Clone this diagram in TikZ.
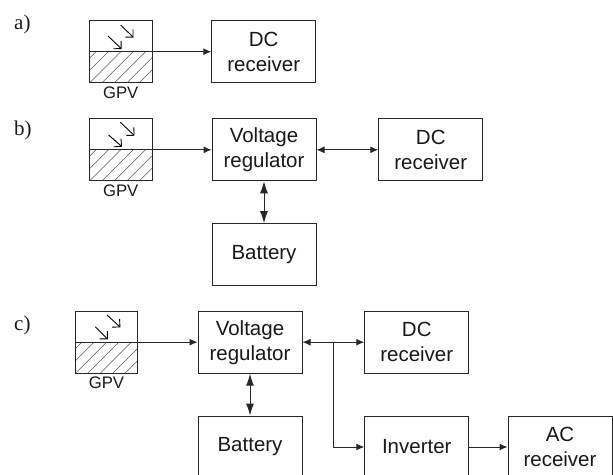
\documentclass[tikz,border=0pt]{standalone}
\usepackage{fontspec}
\setmainfont{Liberation Sans}
\newfontfamily\serifpanel{Liberation Serif}
\usetikzlibrary{arrows.meta}
\tikzset{
  lw/.style={line width=1pt,draw=black!85},
  blk/.style={lw,minimum width=104pt,minimum height=62pt,inner sep=0pt,align=center,
    font=\fontsize{20.5pt}{25pt}\selectfont,text=black!90},
  pv/.style={lw,minimum width=62.5pt,minimum height=62pt,inner sep=0pt},
  pvlabel/.style={inner sep=0pt,font=\fontsize{16.7pt}{18pt}\selectfont,text=black!90},
  panel/.style={inner sep=0pt,anchor=west,font=\serifpanel\fontsize{21pt}{24pt}\selectfont,text=black!90},
  hatch/.style={line width=0.55pt,draw=black!65},
  sun/.style={line width=0.9pt,draw=black,-{Straight Barb[length=5.5pt,width=11pt,line width=0.9pt]}},
  conn/.style={lw,-{Latex[length=8pt,width=7pt]}},
  both/.style={lw,{Latex[length=8pt,width=7pt]}-{Latex[length=8pt,width=7pt]}},
  bigboth/.style={lw,{Latex[length=12pt,width=8pt]}-{Latex[length=12pt,width=8pt]}}
}
% name, centre x, centre y
\newcommand{\pvcell}[3]{%
  \begin{scope}
    \clip (#2-31.25,#3) rectangle (#2+31.25,#3+31);
    \foreach \k in {-6,...,6}
      \draw[hatch] (#2+\k*12.4-31,#3+31) -- ++(31,-31);
  \end{scope}
  \node[pv] (#1) at (#2,#3) {};
  \draw[lw] (#1.west) -- (#1.east);
  \node[pvlabel] (#1lab) at (#2,#3+41) {GPV};
}
\begin{document}
\begin{tikzpicture}[x=1pt,y=-1pt]
\clip (0,0) rectangle (613,474);
\fill[white] (0,0) rectangle (613,474);

% panel a
\node[panel] (la) at (14,24) {a)};
\pvcell{gpva}{120.75}{51.7}
\draw[sun] (108,36) -- (121.7,49);
\draw[sun] (120.7,25) -- (133.5,37.5);
\node[blk] (dca) at (263.75,51.7) {DC\\receiver};
\draw[conn] (gpva.center) ++(31.25,0) -- (dca.west);

% panel b
\node[panel] (lb) at (14,130) {b)};
\pvcell{gpvb}{120.75}{149.8}
\draw[sun] (108.6,135) -- (122,146.7);
\draw[sun] (120.4,122.3) -- (134.5,135.7);
\node[blk] (vrb) at (264,149.8) {Voltage\\regulator};
\node[blk] (dcb) at (430.75,149.8) {DC\\receiver};
\node[blk] (batb) at (264,254.7) {Battery};
\draw[conn] (gpvb.center) ++(31.25,0) -- (vrb.west);
\draw[both] (vrb.east) -- (dcb.west);
\draw[bigboth] (vrb.south) -- (batb.north);

% panel c
\node[panel] (lc) at (14,325) {c)};
\pvcell{gpvc}{106.5}{342.2}
\draw[sun] (95.3,326.7) -- (107.8,339.3);
\draw[sun] (107,315) -- (120.4,327.3);
\node[blk] (vrc) at (250,342.2) {Voltage\\regulator};
\node[blk] (dcc) at (416.75,342.2) {DC\\receiver};
\node[blk] (batc) at (250,447) {Battery};
\node[blk] (inv) at (416.75,447) {Inverter};
\node[blk] (ac) at (560,447) {AC\\receiver};
\coordinate (jn) at (333.7,342.2);
\draw[conn] (gpvc.center) ++(31.25,0) -- (vrc.west);
\draw[both] (vrc.east) -- (dcc.west);
\draw[conn] (jn) |- (inv.west);
\draw[bigboth] (vrc.south) -- (batc.north);
\draw[conn] (inv.east) -- (ac.west);
\end{tikzpicture}
\end{document}
